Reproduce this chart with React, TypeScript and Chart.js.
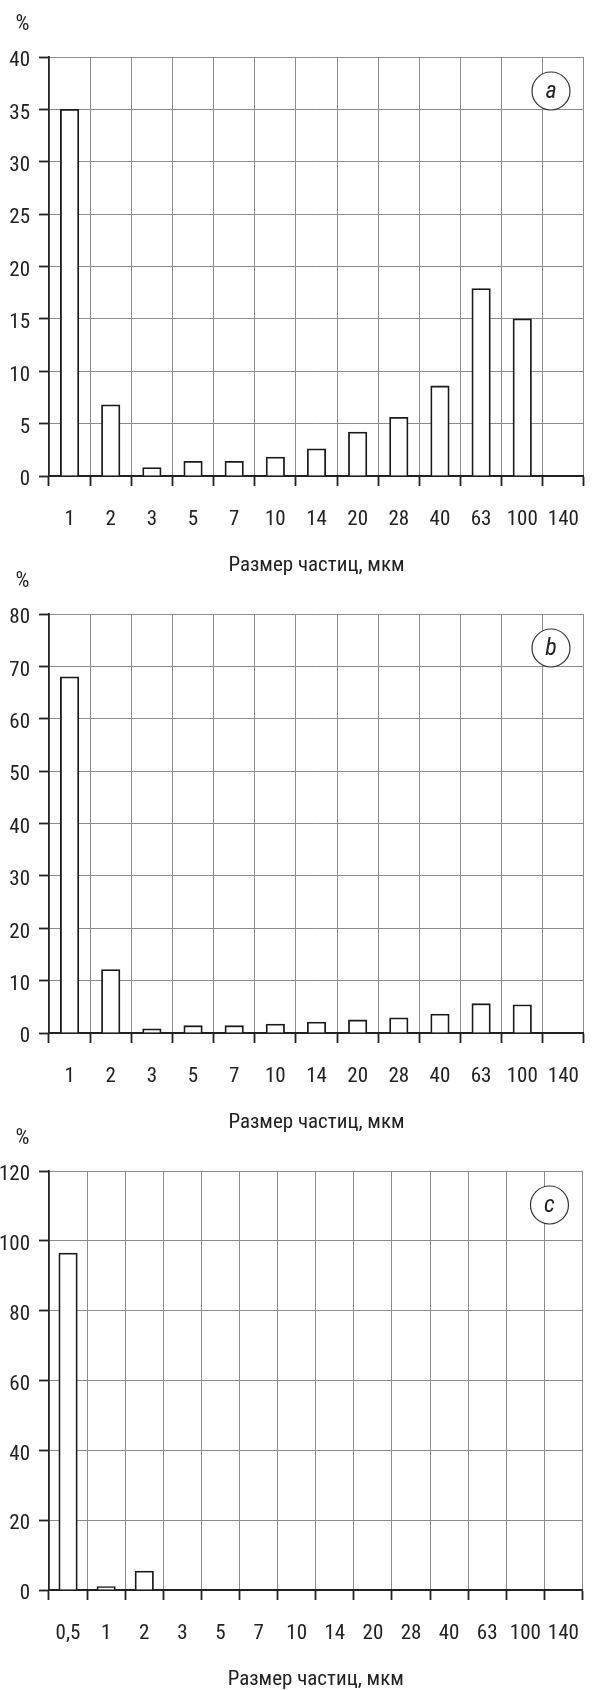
import React, { useEffect, useRef } from "react";
import { Chart, registerables } from "chart.js";

Chart.register(...registerables);

// ---- data ----
const labelsAB = ["1", "2", "3", "5", "7", "10", "14", "20", "28", "40", "63", "100", "140"];
const valuesA = [35, 6.8, 0.8, 1.4, 1.4, 1.8, 2.6, 4.2, 5.6, 8.6, 17.9, 15, null];
const valuesB = [68, 12.1, 0.8, 1.4, 1.4, 1.7, 2.1, 2.5, 2.9, 3.6, 5.6, 5.4, null];
const labelsC = ["0,5", "1", "2", "3", "5", "7", "10", "14", "20", "28", "40", "63", "100", "140"];
const valuesC = [96.5, 1, 5.4, null, null, null, null, null, null, null, null, null, null, null];

const axisTitle = "Размер частиц, мкм";
const unitLabel = "%";

const FAMILY = "Roboto, 'DejaVu Sans Condensed', sans-serif";
const TEXT = "#222";
const GRID = "#8c8c8c";
const AXIS = "#222";

const CANVAS_H = 578;
const PLOT_TOP = 57;
const X_AXIS_H = 102;

type Props = {
  labels: string[];
  values: (number | null)[];
  max: number;
  step: number;
  letter: string;
  top: number;
};

function Panel({ labels, values, max, step, letter, top }: Props) {
  const ref = useRef<HTMLCanvasElement | null>(null);

  useEffect(() => {
    if (!ref.current) return;
    const F = { family: FAMILY, size: 21, weight: "condensed" as any };
    const deco = {
      id: "deco",
      afterDraw(chart: any) {
        const { ctx, chartArea } = chart;
        ctx.save();
        ctx.fillStyle = TEXT;
        ctx.font = `condensed 22px ${FAMILY}`;
        ctx.textAlign = "center";
        ctx.textBaseline = "middle";
        ctx.fillText(unitLabel, 22.5, 24);
        const cx = chartArea.right - 33;
        const cy = chartArea.top + 34;
        ctx.beginPath();
        ctx.arc(cx, cy, 19, 0, Math.PI * 2);
        ctx.fillStyle = "#fff";
        ctx.fill();
        ctx.lineWidth = 1.2;
        ctx.strokeStyle = "#333";
        ctx.stroke();
        ctx.fillStyle = TEXT;
        ctx.font = `italic condensed 24px ${FAMILY}`;
        ctx.fillText(letter, cx, cy + 1);
        ctx.restore();
      },
    };
    const chart = new Chart(ref.current, {
      type: "bar",
      data: {
        labels,
        datasets: [
          {
            data: values as any,
            backgroundColor: "#fff",
            borderColor: "#1a1a1a",
            borderWidth: 1.8,
            barThickness: 18.5,
          },
        ],
      },
      options: {
        responsive: false,
        devicePixelRatio: 1,
        animation: false,
        layout: { padding: { top: PLOT_TOP, left: 0, right: 1, bottom: 0 } },
        plugins: { legend: { display: false }, tooltip: { enabled: false } },
        scales: {
          x: {
            grid: {
              offset: true,
              color: (c: any) => (c.index === 0 ? AXIS : GRID),
              lineWidth: 1,
              tickColor: AXIS,
              tickLength: 10,
              tickWidth: 1.8,
            },
            border: { color: AXIS, width: 1.8 },
            ticks: {
              color: TEXT,
              font: F,
              padding: 21,
              maxRotation: 0,
              autoSkip: false,
            },
            title: {
              display: true,
              text: axisTitle,
              color: TEXT,
              font: F,
              padding: { top: 0, bottom: 0 },
            },
            afterFit: (s: any) => {
              s.height = X_AXIS_H;
            },
          },
          y: {
            min: 0,
            max,
            grid: {
              color: (c: any) => (c.tick && c.tick.value === 0 ? AXIS : GRID),
              lineWidth: 1,
              tickColor: AXIS,
              tickLength: 10,
              tickWidth: 1.8,
            },
            border: { color: AXIS, width: 1.8 },
            ticks: {
              stepSize: step,
              color: TEXT,
              font: F,
              padding: 9,
              labelOffset: 4,
            },
            afterFit: (s: any) => {
              s.width = 49;
            },
          },
        },
      },
      plugins: [deco],
    });
    return () => chart.destroy();
  }, []);

  return (
    <canvas
      ref={ref}
      width={600}
      height={CANVAS_H}
      style={{ position: "absolute", left: 0, top, width: 600, height: CANVAS_H, display: "block" }}
    />
  );
}

export default function App() {
  return (
    <div style={{ position: "absolute", left: 0, top: 0, width: 600, height: 1690, overflow: "hidden", background: "#fff" }}>
      <Panel labels={labelsAB} values={valuesA} max={40} step={5} letter="a" top={0} />
      <Panel labels={labelsAB} values={valuesB} max={80} step={10} letter="b" top={557} />
      <Panel labels={labelsC} values={valuesC} max={120} step={20} letter="c" top={1114} />
    </div>
  );
}
